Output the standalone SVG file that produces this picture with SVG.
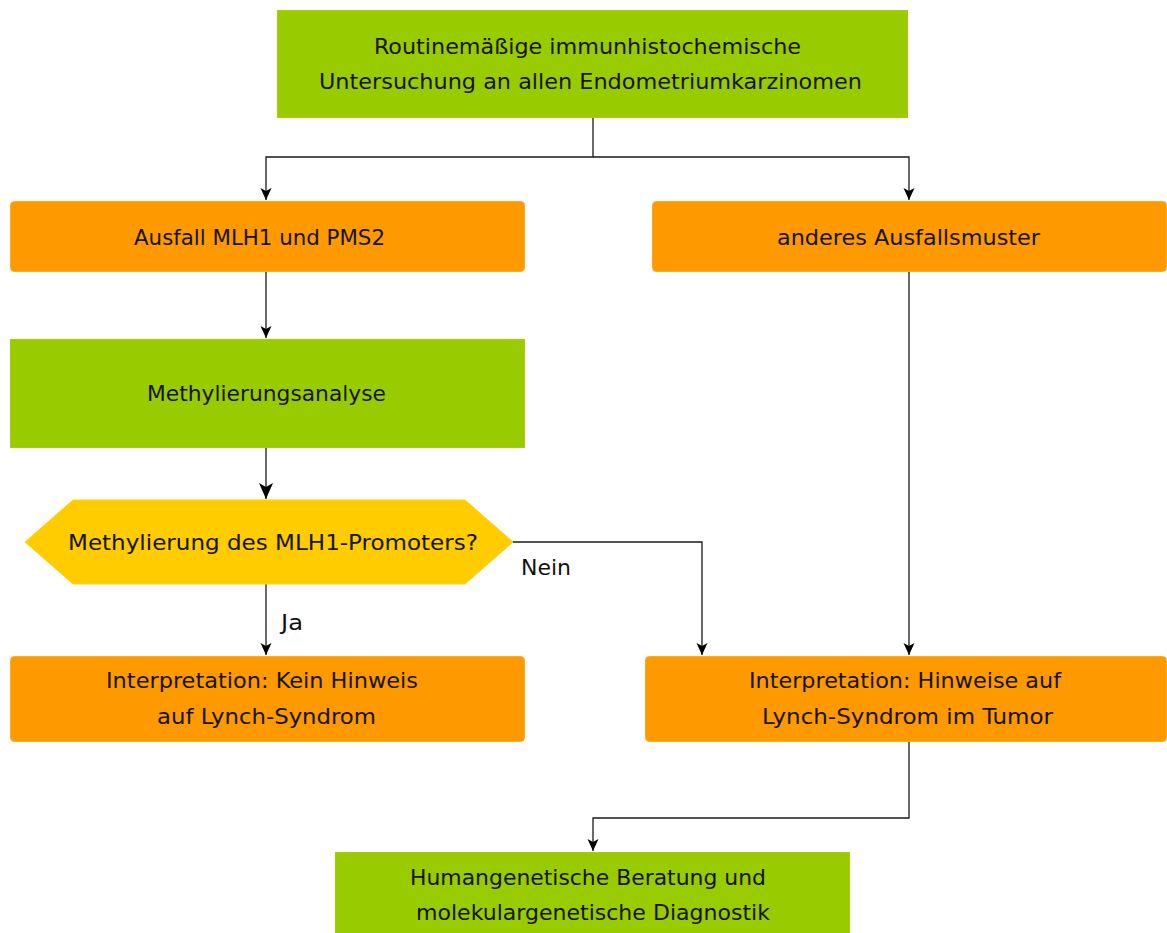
<svg xmlns="http://www.w3.org/2000/svg" width="1167" height="933" viewBox="0 0 1167 933">
<style>
.t{font-family:"DejaVu Sans Condensed","DejaVu Sans",sans-serif;font-size:22px;fill:#141400;text-anchor:middle;dominant-baseline:central}
.l{font-family:"DejaVu Sans Condensed","DejaVu Sans",sans-serif;font-size:22px;fill:#111;dominant-baseline:central}
.g{fill:#99CC00;stroke:#a8d000;stroke-width:1}
.o{fill:#FF9900;stroke:#ffa820;stroke-width:1}
.y{fill:#FFCC00;stroke:#ffd21a;stroke-width:1}
.c{fill:none;stroke:#1a1a1a;stroke-width:1.3}
</style>
<defs>
<marker id="ah" viewBox="0 0 12 12" refX="12" refY="6" markerWidth="12" markerHeight="12" markerUnits="userSpaceOnUse" orient="auto">
<path d="M0,0.5 L12,6 L0,11.5 L3,6 z" fill="#000"/>
</marker>
<marker id="ahL" viewBox="0 0 16 16" refX="16" refY="8" markerWidth="16" markerHeight="16" markerUnits="userSpaceOnUse" orient="auto">
<path d="M0,1 L16,8 L0,15 L4,8 z" fill="#000"/>
</marker>
</defs>
<rect width="1167" height="933" fill="#fff"/>
<g id="connectors">
<path class="c" d="M593,117 V157 H266 V200" marker-end="url(#ah)"/>
<path class="c" d="M593,157 H909 V200" marker-end="url(#ah)"/>
<path class="c" d="M266,271 V338" marker-end="url(#ah)"/>
<path class="c" d="M266,447 V499" marker-end="url(#ahL)"/>
<path class="c" d="M266,584 V655" marker-end="url(#ah)"/>
<path class="c" d="M513,542 H702 V655" marker-end="url(#ah)"/>
<path class="c" d="M909,271 V655" marker-end="url(#ah)"/>
<path class="c" d="M909,741 V818 H593 V851" marker-end="url(#ah)"/>
<text class="l" x="281" y="622" textLength="22" lengthAdjust="spacingAndGlyphs">Ja</text>
<text class="l" x="521" y="567" textLength="50" lengthAdjust="spacingAndGlyphs">Nein</text>
</g>
<g id="n1">
<rect class="g" x="277.5" y="10.5" width="630" height="107"/>
<text class="t" x="587.5" y="46" textLength="427" lengthAdjust="spacingAndGlyphs">Routinemäßige immunhistochemische</text>
<text class="t" x="590.5" y="81" textLength="543" lengthAdjust="spacingAndGlyphs">Untersuchung an allen Endometriumkarzinomen</text>
</g>
<g id="n2">
<rect class="o" x="10.5" y="201.5" width="514" height="70" rx="4"/>
<text class="t" x="259.5" y="237" textLength="251" lengthAdjust="spacingAndGlyphs">Ausfall MLH1 und PMS2</text>
</g>
<g id="n3">
<rect class="o" x="652.5" y="201.5" width="514" height="70" rx="4"/>
<text class="t" x="908.5" y="237" textLength="263" lengthAdjust="spacingAndGlyphs">anderes Ausfallsmuster</text>
</g>
<g id="n4">
<rect class="g" x="10.5" y="339.5" width="514" height="108"/>
<text class="t" x="266.5" y="393" textLength="239" lengthAdjust="spacingAndGlyphs">Methylierungsanalyse</text>
</g>
<g id="n5">
<polygon class="y" points="25,542 73,500 465,500 513,542 465,584 73,584"/>
<text class="t" x="273" y="542" textLength="410" lengthAdjust="spacingAndGlyphs">Methylierung des MLH1-Promoters?</text>
</g>
<g id="n6">
<rect class="o" x="10.5" y="656.5" width="514" height="85" rx="4"/>
<text class="t" x="262" y="680" textLength="312" lengthAdjust="spacingAndGlyphs">Interpretation: Kein Hinweis</text>
<text class="t" x="266.5" y="716" textLength="219" lengthAdjust="spacingAndGlyphs">auf Lynch-Syndrom</text>
</g>
<g id="n7">
<rect class="o" x="645.5" y="656.5" width="521" height="85" rx="4"/>
<text class="t" x="905" y="680" textLength="312" lengthAdjust="spacingAndGlyphs">Interpretation: Hinweise auf</text>
<text class="t" x="907.5" y="716" textLength="291" lengthAdjust="spacingAndGlyphs">Lynch-Syndrom im Tumor</text>
</g>
<g id="n8">
<rect class="g" x="335.5" y="852.5" width="514" height="90"/>
<text class="t" x="588" y="877" textLength="356" lengthAdjust="spacingAndGlyphs">Humangenetische Beratung und</text>
<text class="t" x="593" y="912" textLength="354" lengthAdjust="spacingAndGlyphs">molekulargenetische Diagnostik</text>
</g>
</svg>
